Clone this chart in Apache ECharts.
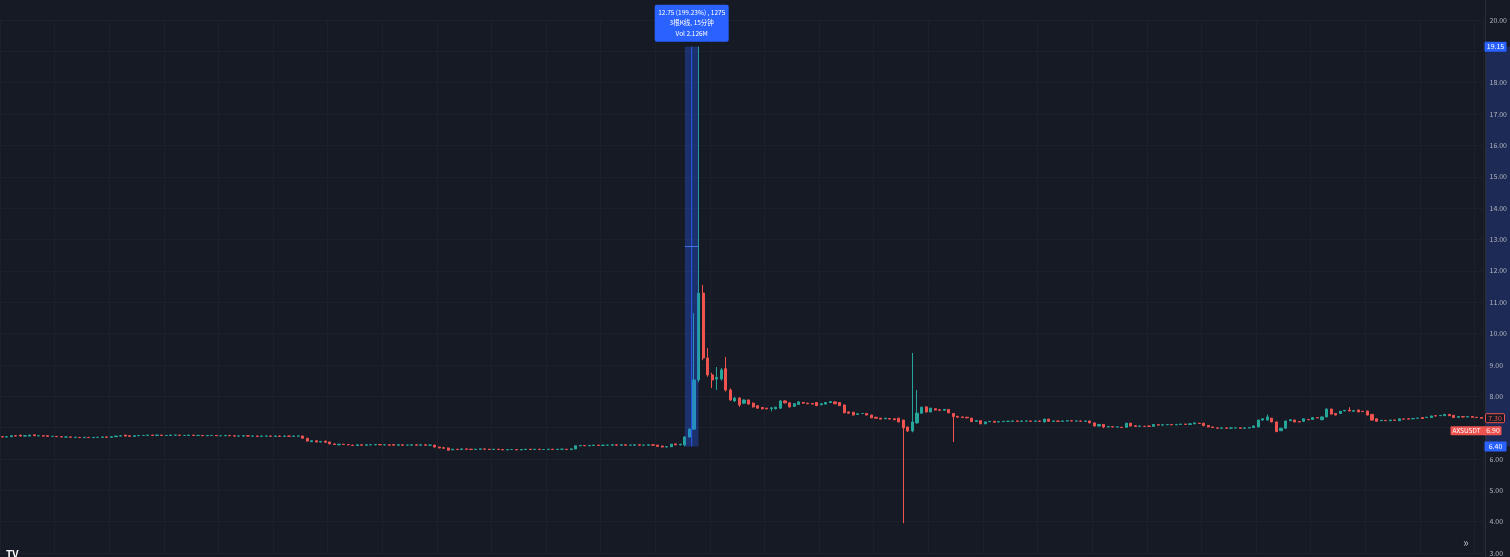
<!DOCTYPE html>
<html><head><meta charset="utf-8">
<script src="https://cdn.jsdelivr.net/npm/echarts@6/dist/echarts.min.js"></script>
<style>html,body{margin:0;padding:0;background:#161a25;overflow:hidden}#c{width:1510px;height:557px}</style>
</head><body><div id="c"></div>
<script>
// [open, close, low, high] per 15-minute bar (AXSUSDT)
const ohlc = [
[6.71,6.70,6.69,6.72],[6.70,6.71,6.69,6.72],[6.71,6.74,6.70,6.75],[6.74,6.73,6.72,6.75],[6.76,6.73,6.72,6.77],
[6.73,6.74,6.72,6.75],[6.73,6.76,6.72,6.77],[6.77,6.74,6.73,6.78],[6.74,6.74,6.73,6.75],[6.74,6.73,6.72,6.75],
[6.74,6.72,6.71,6.75],[6.72,6.72,6.71,6.73],[6.72,6.71,6.70,6.73],[6.71,6.70,6.69,6.72],[6.70,6.70,6.69,6.71],
[6.70,6.69,6.68,6.71],[6.69,6.69,6.68,6.70],[6.69,6.68,6.67,6.70],[6.68,6.69,6.67,6.70],[6.69,6.68,6.67,6.70],
[6.68,6.69,6.67,6.70],[6.69,6.69,6.68,6.70],[6.69,6.70,6.68,6.71],[6.70,6.69,6.68,6.71],[6.69,6.71,6.68,6.72],
[6.71,6.73,6.70,6.74],[6.73,6.74,6.72,6.75],[6.76,6.73,6.72,6.77],[6.74,6.72,6.71,6.75],[6.72,6.74,6.71,6.75],
[6.74,6.75,6.73,6.76],[6.75,6.75,6.74,6.76],[6.75,6.76,6.74,6.77],[6.76,6.75,6.74,6.77],[6.75,6.76,6.74,6.77],
[6.76,6.75,6.74,6.77],[6.75,6.75,6.74,6.76],[6.75,6.76,6.74,6.77],[6.76,6.76,6.75,6.77],[6.76,6.75,6.74,6.77],
[6.75,6.75,6.74,6.76],[6.75,6.76,6.74,6.77],[6.76,6.75,6.74,6.77],[6.75,6.75,6.74,6.76],[6.75,6.74,6.73,6.76],
[6.74,6.75,6.73,6.76],[6.75,6.75,6.74,6.76],[6.75,6.74,6.73,6.76],[6.74,6.74,6.73,6.75],[6.74,6.75,6.73,6.76],
[6.75,6.74,6.73,6.76],[6.74,6.73,6.72,6.75],[6.73,6.73,6.72,6.74],[6.73,6.74,6.72,6.75],[6.74,6.73,6.72,6.75],
[6.73,6.73,6.72,6.74],[6.73,6.72,6.71,6.74],[6.72,6.73,6.71,6.74],[6.73,6.73,6.72,6.74],[6.73,6.72,6.71,6.74],
[6.72,6.73,6.71,6.74],[6.73,6.72,6.71,6.74],[6.72,6.73,6.71,6.74],[6.73,6.72,6.71,6.74],[6.72,6.73,6.71,6.74],
[6.73,6.73,6.72,6.74],[6.73,6.66,6.65,6.74],[6.66,6.57,6.56,6.67],[6.55,6.58,6.54,6.59],[6.58,6.54,6.53,6.59],
[6.54,6.56,6.53,6.57],[6.57,6.53,6.52,6.58],[6.54,6.48,6.47,6.55],[6.48,6.46,6.45,6.49],[6.45,6.47,6.44,6.48],
[6.47,6.46,6.45,6.48],[6.46,6.45,6.44,6.47],[6.44,6.43,6.42,6.45],[6.43,6.45,6.42,6.46],[6.45,6.44,6.43,6.46],
[6.44,6.45,6.43,6.46],[6.45,6.45,6.44,6.46],[6.45,6.46,6.44,6.47],[6.46,6.45,6.44,6.47],[6.45,6.45,6.44,6.46],
[6.45,6.44,6.43,6.46],[6.46,6.44,6.43,6.47],[6.44,6.45,6.43,6.46],[6.45,6.44,6.43,6.46],[6.44,6.44,6.43,6.45],
[6.44,6.45,6.43,6.46],[6.45,6.44,6.43,6.46],[6.44,6.45,6.43,6.46],[6.45,6.44,6.43,6.46],[6.44,6.44,6.43,6.45],
[6.44,6.38,6.37,6.45],[6.38,6.35,6.34,6.39],[6.36,6.34,6.33,6.37],[6.35,6.28,6.27,6.36],[6.29,6.31,6.28,6.32],
[6.31,6.30,6.29,6.32],[6.30,6.32,6.29,6.33],[6.32,6.31,6.30,6.33],[6.31,6.30,6.29,6.32],[6.30,6.31,6.29,6.32],
[6.31,6.32,6.30,6.33],[6.32,6.31,6.30,6.33],[6.31,6.30,6.29,6.32],[6.30,6.31,6.29,6.32],[6.31,6.30,6.29,6.32],
[6.30,6.29,6.28,6.31],[6.29,6.30,6.28,6.31],[6.30,6.30,6.29,6.31],[6.30,6.29,6.28,6.31],[6.29,6.30,6.28,6.31],
[6.30,6.31,6.29,6.32],[6.31,6.30,6.29,6.32],[6.30,6.31,6.29,6.32],[6.31,6.30,6.29,6.32],[6.30,6.30,6.29,6.31],
[6.30,6.31,6.29,6.32],[6.31,6.30,6.29,6.32],[6.30,6.31,6.29,6.32],[6.31,6.31,6.30,6.32],[6.31,6.30,6.29,6.32],
[6.30,6.32,6.29,6.33],[6.32,6.42,6.31,6.43],[6.42,6.43,6.41,6.44],[6.43,6.42,6.41,6.44],[6.42,6.43,6.41,6.44],
[6.43,6.44,6.42,6.45],[6.44,6.43,6.42,6.45],[6.43,6.44,6.42,6.45],[6.44,6.44,6.43,6.45],[6.44,6.45,6.43,6.46],
[6.45,6.44,6.43,6.46],[6.44,6.45,6.43,6.46],[6.45,6.44,6.43,6.46],[6.44,6.44,6.43,6.45],[6.44,6.45,6.43,6.46],
[6.45,6.44,6.43,6.46],[6.44,6.44,6.43,6.45],[6.44,6.45,6.43,6.46],[6.45,6.44,6.43,6.46],[6.44,6.40,6.39,6.45],
[6.41,6.38,6.37,6.42],[6.38,6.39,6.37,6.40],[6.39,6.47,6.38,6.48],[6.48,6.45,6.44,6.49],[6.45,6.47,6.44,6.48],
[6.45,6.70,6.40,6.72],[6.70,6.95,6.68,6.98],[6.95,8.52,6.92,10.65],[8.52,11.29,8.45,19.15],[11.29,9.22,9.15,11.55],
[9.22,8.68,8.62,9.54],[8.68,8.52,8.26,8.75],[8.55,8.60,8.20,8.93],[8.55,8.84,8.50,8.90],[8.88,8.20,8.15,9.25],
[8.20,7.88,7.85,8.25],[7.85,7.94,7.82,7.98],[7.94,7.72,7.66,7.97],[7.78,7.88,7.75,7.90],[7.88,7.75,7.73,7.90],
[7.78,7.66,7.64,7.80],[7.70,7.62,7.60,7.72],[7.64,7.60,7.58,7.66],[7.62,7.60,7.58,7.63],[7.61,7.63,7.52,7.64],
[7.60,7.65,7.58,7.66],[7.62,7.85,7.60,7.87],[7.85,7.79,7.77,7.87],[7.79,7.66,7.64,7.81],[7.68,7.76,7.66,7.78],
[7.74,7.82,7.72,7.84],[7.80,7.78,7.76,7.82],[7.78,7.76,7.75,7.79],[7.77,7.75,7.74,7.78],[7.80,7.70,7.69,7.81],
[7.73,7.76,7.71,7.77],[7.75,7.80,7.74,7.81],[7.80,7.83,7.79,7.84],[7.82,7.76,7.75,7.83],[7.80,7.70,7.69,7.81],
[7.72,7.47,7.46,7.73],[7.50,7.46,7.44,7.51],[7.49,7.40,7.39,7.50],[7.42,7.44,7.41,7.45],[7.45,7.45,7.44,7.46],
[7.45,7.40,7.39,7.46],[7.40,7.31,7.30,7.41],[7.33,7.30,7.29,7.34],[7.30,7.27,7.26,7.31],[7.28,7.30,7.27,7.31],
[7.29,7.27,7.26,7.30],[7.28,7.25,7.24,7.29],[7.30,7.18,7.17,7.31],[7.24,6.99,3.95,7.25],[7.02,6.89,6.86,7.03],
[6.89,7.18,6.85,9.38],[7.15,7.46,7.12,8.20],[7.46,7.65,7.44,7.67],[7.66,7.50,7.48,7.68],[7.50,7.62,7.49,7.63],
[7.60,7.56,7.55,7.61],[7.57,7.55,7.54,7.58],[7.55,7.58,7.54,7.59],[7.58,7.47,7.46,7.59],[7.45,7.35,6.54,7.46],
[7.36,7.33,7.32,7.37],[7.34,7.32,7.31,7.35],[7.33,7.31,7.30,7.34],[7.30,7.19,7.18,7.31],[7.20,7.22,7.19,7.23],
[7.22,7.12,7.11,7.23],[7.12,7.18,7.11,7.19],[7.19,7.20,7.18,7.21],[7.20,7.17,7.16,7.21],[7.18,7.19,7.17,7.20],
[7.19,7.20,7.18,7.21],[7.20,7.20,7.19,7.21],[7.20,7.21,7.19,7.22],[7.21,7.20,7.19,7.22],[7.20,7.21,7.19,7.22],
[7.21,7.21,7.20,7.22],[7.21,7.20,7.19,7.22],[7.20,7.21,7.19,7.22],[7.21,7.20,7.19,7.22],[7.18,7.27,7.17,7.28],
[7.27,7.20,7.19,7.28],[7.20,7.21,7.19,7.22],[7.21,7.20,7.19,7.22],[7.20,7.21,7.19,7.22],[7.21,7.22,7.20,7.23],
[7.22,7.21,7.20,7.23],[7.21,7.21,7.20,7.22],[7.21,7.20,7.19,7.22],[7.20,7.21,7.19,7.22],[7.21,7.15,7.14,7.22],
[7.15,7.05,7.04,7.16],[7.05,7.10,7.04,7.11],[7.10,7.02,6.98,7.11],[7.02,7.03,7.01,7.04],[7.03,7.02,7.01,7.04],
[7.02,7.02,7.01,7.03],[7.01,7.00,6.99,7.02],[7.01,7.14,7.00,7.15],[7.14,7.05,7.04,7.15],[7.06,7.04,7.03,7.07],
[7.04,7.05,7.03,7.06],[7.04,7.04,7.03,7.05],[7.05,7.04,7.03,7.06],[7.04,7.10,7.03,7.11],[7.09,7.08,7.07,7.10],
[7.08,7.09,7.07,7.10],[7.09,7.10,7.08,7.11],[7.10,7.09,7.08,7.11],[7.09,7.10,7.08,7.11],[7.10,7.11,7.09,7.12],
[7.11,7.10,7.09,7.12],[7.10,7.12,7.09,7.13],[7.12,7.15,7.11,7.16],[7.14,7.13,7.12,7.15],[7.14,7.06,7.05,7.15],
[7.07,7.02,7.01,7.08],[7.02,7.00,6.99,7.03],[6.99,6.98,6.97,7.00],[6.98,6.99,6.97,7.00],[6.99,6.98,6.97,7.00],
[6.98,6.99,6.97,7.00],[6.99,6.99,6.98,7.00],[6.99,6.98,6.97,7.00],[6.98,6.99,6.97,7.00],[6.99,7.00,6.98,7.01],
[7.00,7.05,6.99,7.06],[7.02,7.24,7.01,7.25],[7.24,7.28,7.23,7.29],[7.24,7.34,7.23,7.42],[7.30,7.18,7.17,7.31],
[7.18,6.87,6.86,7.19],[6.90,6.98,6.89,6.99],[6.98,7.21,6.97,7.22],[7.22,7.25,7.21,7.26],[7.24,7.18,7.17,7.25],
[7.19,7.18,7.17,7.20],[7.20,7.28,7.19,7.29],[7.26,7.25,7.24,7.27],[7.26,7.32,7.25,7.33],[7.32,7.31,7.30,7.33],
[7.25,7.34,7.24,7.35],[7.34,7.59,7.33,7.61],[7.59,7.43,7.42,7.60],[7.45,7.40,7.39,7.46],[7.45,7.52,7.44,7.53],
[7.53,7.55,7.52,7.56],[7.56,7.53,7.52,7.65],[7.52,7.54,7.51,7.55],[7.56,7.50,7.49,7.57],[7.52,7.51,7.50,7.53],
[7.53,7.40,7.39,7.54],[7.42,7.24,7.23,7.43],[7.28,7.20,7.19,7.29],[7.22,7.23,7.21,7.24],[7.23,7.22,7.21,7.24],
[7.22,7.24,7.21,7.25],[7.24,7.23,7.22,7.25],[7.22,7.28,7.21,7.29],[7.27,7.27,7.26,7.28],[7.28,7.27,7.26,7.29],
[7.28,7.29,7.27,7.30],[7.30,7.30,7.29,7.31],[7.32,7.29,7.28,7.33],[7.32,7.33,7.31,7.34],[7.32,7.37,7.31,7.38],
[7.38,7.37,7.36,7.39],[7.38,7.39,7.37,7.40],[7.38,7.42,7.37,7.43],[7.42,7.38,7.37,7.43],[7.39,7.32,7.31,7.40],
[7.33,7.35,7.32,7.36],[7.35,7.34,7.33,7.36],[7.34,7.35,7.33,7.36],[7.35,7.33,7.32,7.36],[7.33,7.32,7.31,7.34],
[7.32,7.30,7.29,7.33]
];
// price axis
const yMin = 3, yMax = 20, yStep = 1;
const hiddenTicks = [19, 7];
// price range measurement tool (bar indices and prices)
const measureStart = 150, measureEnd = 153;
const measureLow = 6.40, measureHigh = 19.15;
const measureText = ['12.75 (199.23%) , 1275', '3根K线, 15分钟', 'Vol 2.126M'];
// price tags
const lastPrice = 7.30;
const symbolName = 'AXSUSDT';
const symbolPrice = 6.90;
const barsPerGridLine = 12;

const categories = ohlc.map((d, i) => String(i));

const UP = '#26a69a', DOWN = '#ef5350', BLUE = '#2962ff';
const FONT = '"Noto Sans CJK SC", "Noto Sans", sans-serif';

const chart = echarts.init(document.getElementById('c'));
const W = chart.getWidth(), H = chart.getHeight();
const GRID_RIGHT = 25;
chart.setOption({
  backgroundColor: '#161a25',
  animation: false,
  grid: { left: 0, right: GRID_RIGHT, top: 20, bottom: 4 },
  xAxis: {
    type: 'category', data: categories, boundaryGap: true,
    axisLine: { show: false }, axisTick: { show: false }, axisLabel: { show: false },
    splitLine: { show: true, interval: (i) => i % barsPerGridLine === 0, lineStyle: { color: '#1c202b', width: 1 } }
  },
  yAxis: [
    {
      type: 'value', position: 'right', min: yMin, max: yMax, interval: yStep, z: 5,
      axisLine: { show: false }, axisTick: { show: false },
      axisLabel: { color: '#b2b5be', fontSize: 7, fontFamily: FONT, margin: 6,
        formatter: (v) => hiddenTicks.includes(v) ? '' : v.toFixed(2) },
      splitLine: { show: false }
    },
    {
      type: 'value', position: 'right', min: yMin, max: yMax, interval: yStep, z: 0,
      axisLine: { show: false }, axisTick: { show: false }, axisLabel: { show: false },
      splitLine: { lineStyle: { color: '#1c202b', width: 1 } }
    }
  ],
  series: [
    {
      type: 'candlestick', data: ohlc, barWidth: 2.6, z: 2,
      itemStyle: { color: UP, color0: DOWN, borderColor: UP, borderColor0: DOWN, borderWidth: 1 }
    },
    {
      type: 'custom', z: 4, silent: true, clip: false,
      data: [[measureStart, measureEnd, measureLow, measureHigh]],
      encode: { x: [0, 1], y: [2, 3] },
      renderItem: (params, api) => {
        const p1 = api.coord([api.value(0), api.value(3)]);
        const p2 = api.coord([api.value(1), api.value(2)]);
        const mid = api.coord([api.value(0), (api.value(2) + api.value(3)) / 2]);
        const cx = (p1[0] + p2[0]) / 2;
        const bw = 74, bh = 37;
        const bx = cx - bw / 2, by = p1[1] - 5 - bh;
        const txt = (t, y) => ({ type: 'text', style: { text: t, x: cx, y: y, fill: '#ffffff', font: '6.5px ' + FONT, align: 'center', verticalAlign: 'middle' } });
        return { type: 'group', children: [
          { type: 'rect', shape: { x: p1[0], y: p1[1], width: p2[0] - p1[0], height: p2[1] - p1[1] }, style: { fill: 'rgba(41,98,255,0.33)' } },
          { type: 'line', shape: { x1: cx, y1: p1[1], x2: cx, y2: p2[1] }, style: { stroke: 'rgba(41,98,255,0.9)', lineWidth: 1 } },
          { type: 'line', shape: { x1: p1[0], y1: mid[1], x2: p2[0], y2: mid[1] }, style: { stroke: 'rgba(80,130,255,0.8)', lineWidth: 1 } },
          { type: 'rect', shape: { x: bx, y: by, width: bw, height: bh, r: 2 }, style: { fill: BLUE } },
          txt(measureText[0], by + 7.5), txt(measureText[1], by + 18), txt(measureText[2], by + 29)
        ]};
      }
    },
    {
      type: 'custom', z: 6, silent: true, clip: false,
      data: [[measureHigh], [measureLow]],
      encode: { y: 0 },
      renderItem: (params, api) => {
        const cs = params.coordSys;
        const y = api.coord([0, api.value(0)])[1];
        const ax = cs.x + cs.width;
        return { type: 'group', children: [
          { type: 'rect', shape: { x: ax + 1, y: y - 5, width: 22, height: 10, r: 1 }, style: { fill: BLUE } },
          { type: 'text', style: { text: api.value(0).toFixed(2), x: ax + 12, y: y, fill: '#ffffff', font: '7px ' + FONT, align: 'center', verticalAlign: 'middle' } }
        ]};
      }
    },
    {
      type: 'custom', z: 6, silent: true, clip: false,
      data: [[lastPrice]],
      encode: { y: 0 },
      renderItem: (params, api) => {
        const cs = params.coordSys;
        const y = api.coord([0, api.value(0)])[1];
        const ax = cs.x + cs.width;
        return { type: 'group', children: [
          { type: 'rect', shape: { x: ax + 2, y: y - 4.5, width: 19, height: 9, r: 1 }, style: { fill: '#161a25', stroke: DOWN, lineWidth: 1 } },
          { type: 'text', style: { text: api.value(0).toFixed(2), x: ax + 11.5, y: y, fill: DOWN, font: '7px ' + FONT, align: 'center', verticalAlign: 'middle' } }
        ]};
      }
    },
    {
      type: 'custom', z: 6, silent: true, clip: false,
      data: [[symbolPrice]],
      encode: { y: 0 },
      renderItem: (params, api) => {
        const cs = params.coordSys;
        const y = api.coord([0, api.value(0)])[1];
        const ax = cs.x + cs.width;
        return { type: 'group', children: [
          { type: 'rect', shape: { x: ax - 33, y: y - 4.5, width: 51, height: 9, r: 1 }, style: { fill: DOWN } },
          { type: 'text', style: { text: symbolName, x: ax - 17, y: y, fill: '#ffffff', font: '6.5px ' + FONT, align: 'center', verticalAlign: 'middle' } },
          { type: 'text', style: { text: api.value(0).toFixed(2), x: ax + 9.5, y: y, fill: '#ffffff', font: '7px ' + FONT, align: 'center', verticalAlign: 'middle' } }
        ]};
      }
    }
  ]
});

// price-axis highlight for the measured range (positions through the axis scale)
const ax = W - GRID_RIGHT;
const yHi = chart.convertToPixel({ yAxisIndex: 0 }, measureHigh);
const yLo = chart.convertToPixel({ yAxisIndex: 0 }, measureLow);
chart.setOption({
  graphic: [
    { type: 'rect', z: 1, silent: true, shape: { x: ax, y: yHi, width: GRID_RIGHT, height: yLo - yHi }, style: { fill: '#1d2a55' } },
    { type: 'line', z: 1, silent: true, shape: { x1: ax + 0.5, y1: 0, x2: ax + 0.5, y2: H }, style: { stroke: '#2a2e39', lineWidth: 1 } },
    { type: 'text', left: 6, top: 549, style: { text: 'TV', fill: '#ffffff', font: 'bold 10px ' + FONT } },
    { type: 'text', left: 1463, top: 536, style: { text: '»', fill: '#b2b5be', font: '12px ' + FONT } }
  ]
});
</script>
</body></html>
